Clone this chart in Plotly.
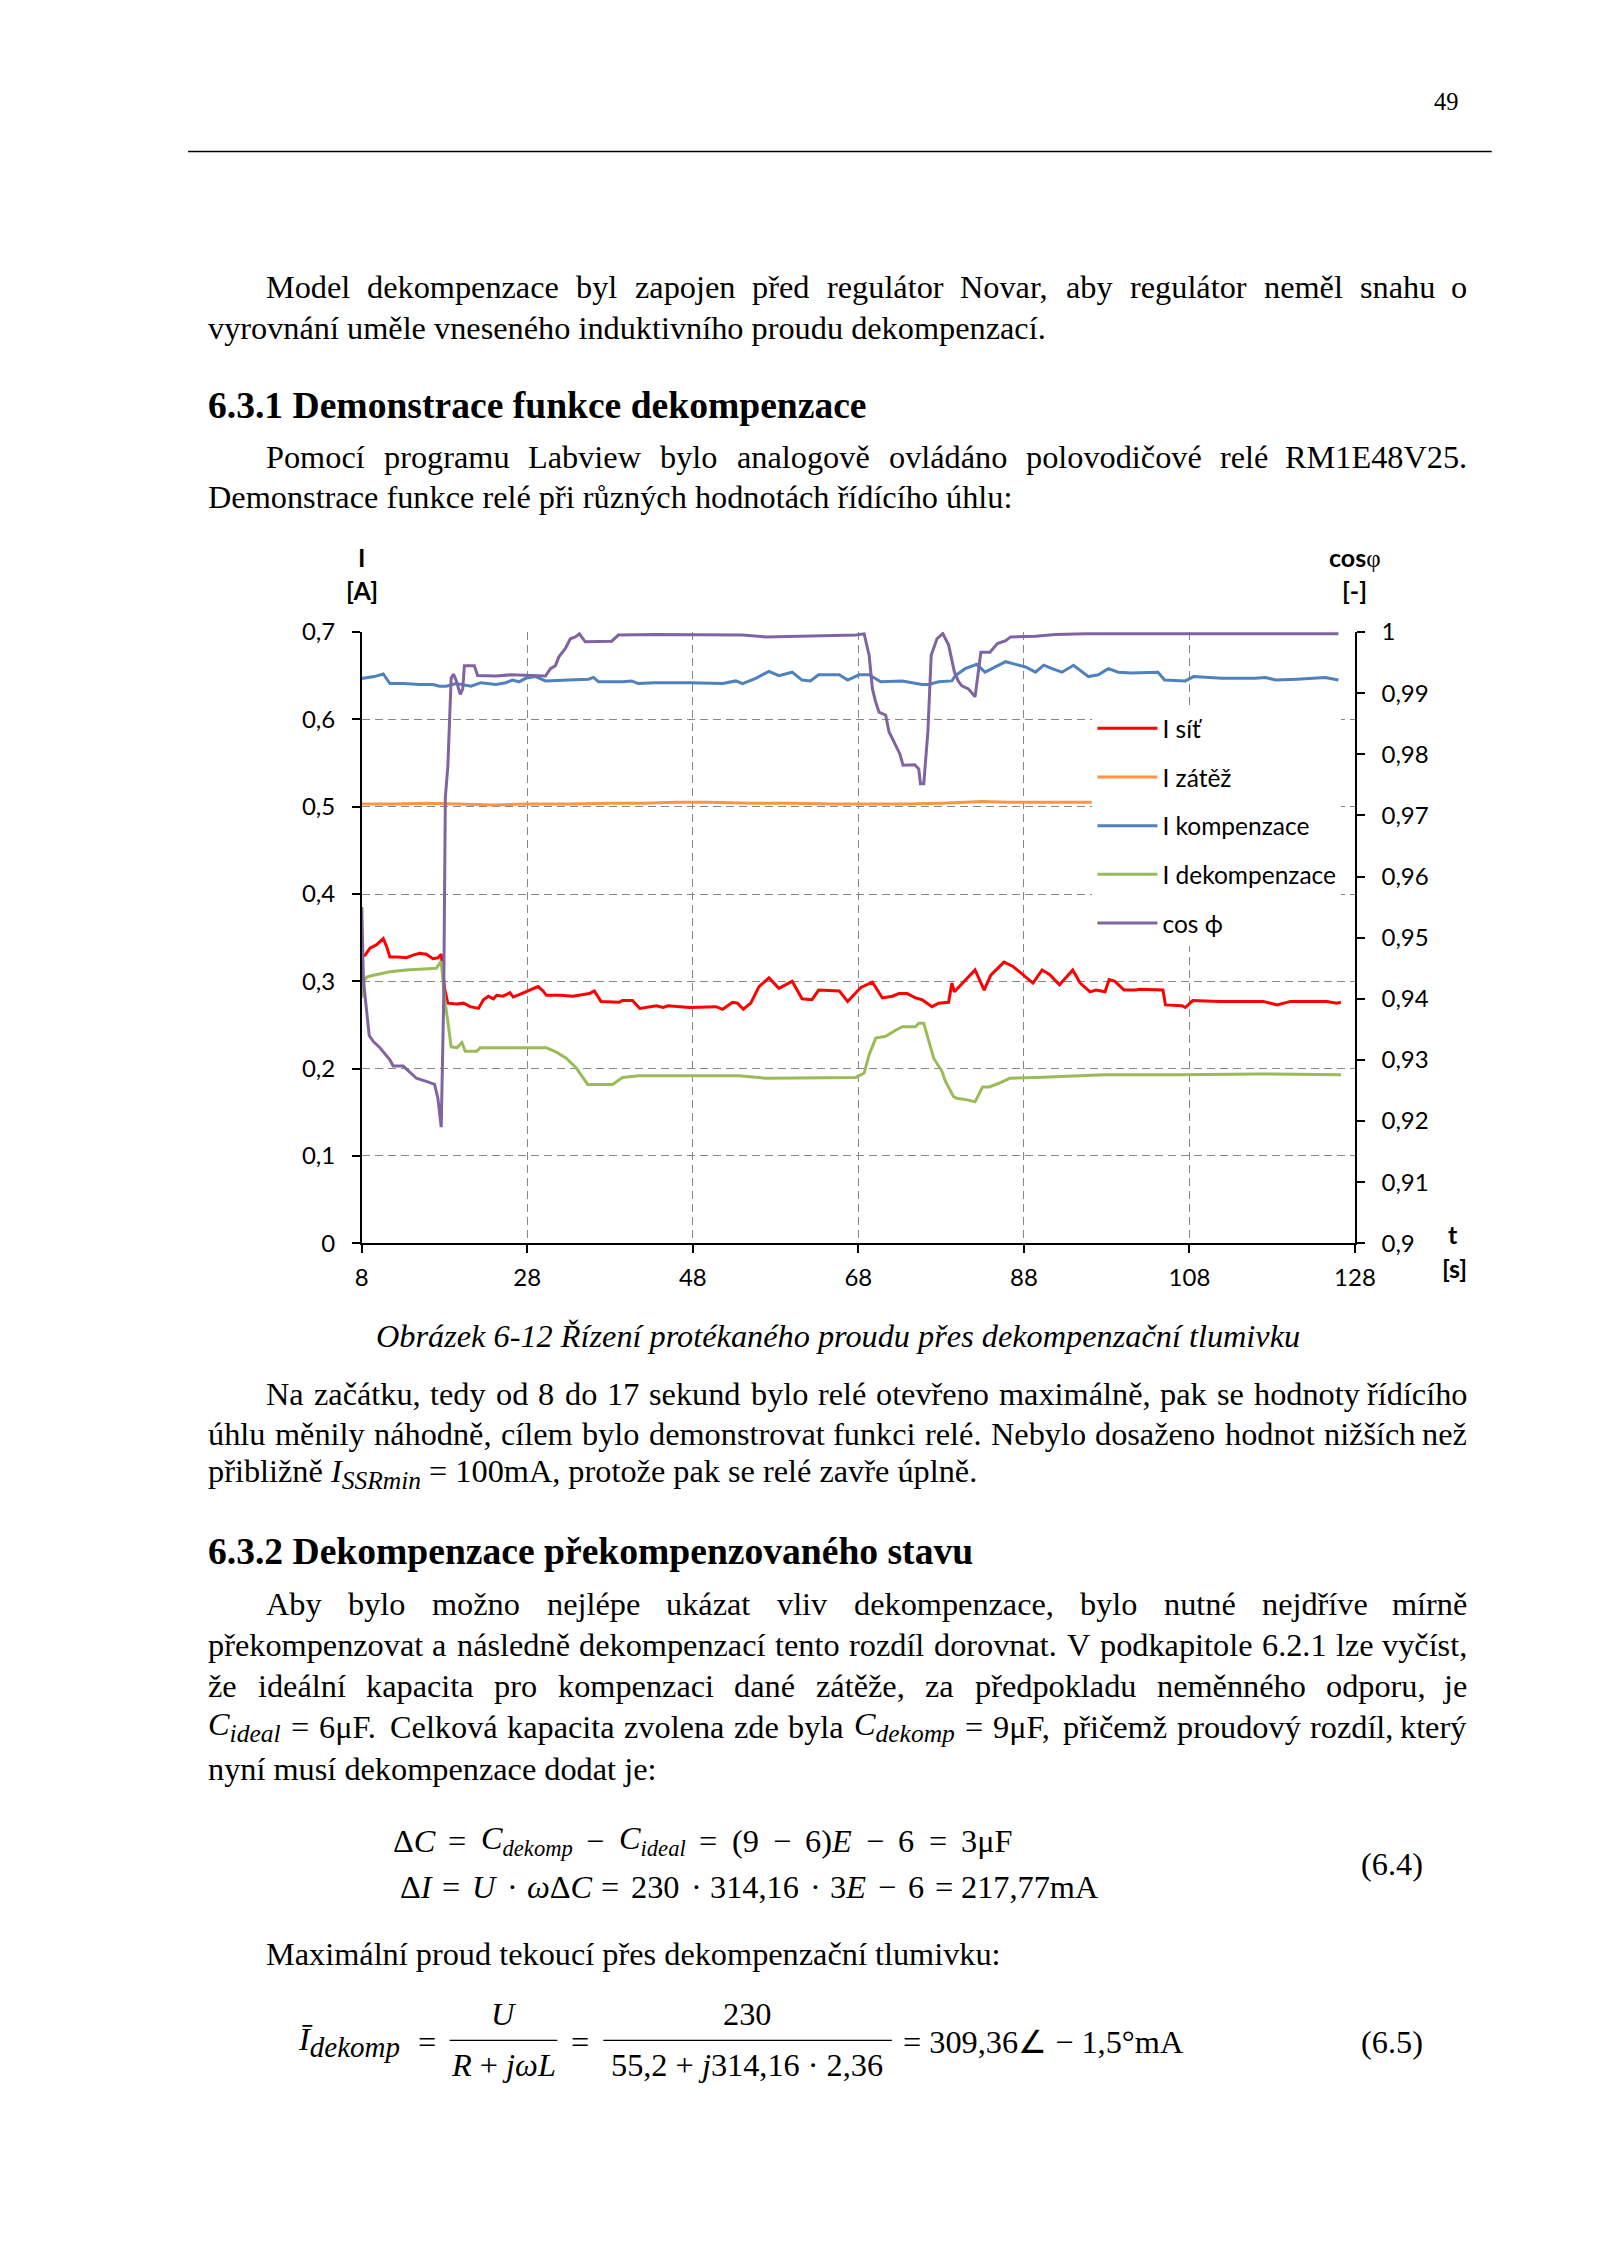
import unicodedata
import plotly.graph_objects as go

# ---------------- data ----------------
t_sit = [8.0, 8.4, 9.0, 9.8, 10.6, 11.0, 11.4, 12.4, 13.4, 14.2, 15.0, 15.8, 16.6, 17.2, 17.6, 18.0, 18.4,
         19.5, 20.3, 21.1, 22.1, 22.7, 23.3, 23.9, 24.3, 25.1, 25.9, 26.3, 27.1, 27.9, 28.6, 29.3, 29.9, 30.3,
         32.0, 33.5, 35.5, 36.1, 36.9, 39.1, 39.5, 40.7, 41.6, 42.8, 43.6, 44.4, 45.0, 47.6, 50.8, 51.6, 52.8,
         53.4, 54.1, 55.0, 56.0, 57.2, 58.4, 60.0, 61.2, 62.4, 63.2, 65.7, 66.7, 68.3, 69.7, 70.9, 72.1, 72.9,
         73.9, 74.9, 75.7, 76.9, 77.7, 78.9, 79.3, 79.6, 80.8, 82.1, 83.2, 84.0, 85.6, 86.7, 87.7, 89.1, 90.2,
         91.1, 92.3, 93.9, 94.8, 96.0, 96.7, 97.8, 98.3, 99.0, 100.1, 101.5, 102.0, 104.8, 105.1, 107.1, 107.5,
         108.4, 111.6, 116.9, 118.6, 120.2, 124.6, 125.8, 126.3]
i_sit = [0.329, 0.330, 0.338, 0.342, 0.349, 0.340, 0.328, 0.328, 0.327, 0.330, 0.332, 0.331, 0.326, 0.327,
         0.331, 0.292, 0.275, 0.274, 0.275, 0.271, 0.269, 0.279, 0.283, 0.280, 0.284, 0.283, 0.287, 0.282,
         0.285, 0.288, 0.291, 0.294, 0.289, 0.284, 0.284, 0.283, 0.286, 0.289, 0.277, 0.276, 0.278, 0.278,
         0.269, 0.271, 0.272, 0.270, 0.272, 0.270, 0.271, 0.268, 0.276, 0.275, 0.268, 0.275, 0.294, 0.304,
         0.292, 0.300, 0.280, 0.279, 0.290, 0.289, 0.277, 0.293, 0.299, 0.281, 0.283, 0.286, 0.286, 0.281,
         0.279, 0.271, 0.275, 0.276, 0.298, 0.288, 0.300, 0.313, 0.290, 0.307, 0.322, 0.317, 0.309, 0.298,
         0.313, 0.308, 0.296, 0.313, 0.298, 0.288, 0.290, 0.288, 0.302, 0.300, 0.290, 0.290, 0.291, 0.290,
         0.273, 0.272, 0.270, 0.278, 0.277, 0.277, 0.273, 0.277, 0.277, 0.275, 0.276]

t_zatez = [8.0, 12.0, 16.0, 20.0, 24.0, 28.0, 33.0, 38.0, 42.0, 46.0, 50.0, 55.0, 60.0, 65.0, 70.0, 74.0,
           78.0, 81.0, 83.0, 86.0, 90.0, 93.0, 96.2]
i_zatez = [0.503, 0.503, 0.504, 0.503, 0.502, 0.503, 0.503, 0.504, 0.504, 0.505, 0.505, 0.504, 0.504,
           0.503, 0.503, 0.503, 0.504, 0.505, 0.506, 0.505, 0.505, 0.505, 0.505]

t_komp = [8.0, 8.2, 9.5, 10.6, 11.4, 13.0, 15.0, 16.6, 17.4, 18.2, 19.4, 21.2, 22.4, 23.6, 24.2, 25.4,
          26.2, 27.0, 27.8, 29.0, 30.2, 33.0, 35.4, 36.0, 36.6, 39.5, 40.6, 41.4, 43.4, 47.6, 51.6, 53.2,
          54.0, 55.6, 57.2, 58.4, 60.0, 61.2, 62.2, 63.2, 65.7, 66.7, 68.1, 69.3, 70.7, 73.3, 75.7, 76.5,
          77.7, 79.3, 79.7, 80.9, 82.3, 83.3, 85.8, 87.0, 88.2, 89.4, 90.4, 91.4, 92.6, 94.0, 95.8, 97.0,
          98.2, 99.4, 101.0, 104.2, 105.0, 107.5, 108.5, 111.9, 115.9, 117.2, 118.4, 121.0, 124.4, 126.0]
i_komp = [0.647, 0.647, 0.649, 0.652, 0.641, 0.641, 0.640, 0.640, 0.638, 0.638, 0.641, 0.638, 0.642,
          0.641, 0.640, 0.642, 0.645, 0.643, 0.647, 0.649, 0.644, 0.645, 0.646, 0.648, 0.643, 0.643, 0.644,
          0.641, 0.642, 0.642, 0.641, 0.644, 0.641, 0.647, 0.655, 0.650, 0.654, 0.645, 0.644, 0.651, 0.651,
          0.645, 0.651, 0.651, 0.643, 0.644, 0.640, 0.640, 0.643, 0.644, 0.650, 0.658, 0.663, 0.654, 0.666,
          0.663, 0.660, 0.654, 0.662, 0.658, 0.654, 0.662, 0.649, 0.651, 0.658, 0.654, 0.653, 0.654, 0.645,
          0.644, 0.649, 0.647, 0.647, 0.648, 0.645, 0.646, 0.648, 0.645]

t_dekomp = [8.0, 8.3, 8.6, 9.4, 11.4, 13.4, 15.4, 17.0, 17.6, 18.0, 18.4, 18.8, 19.5, 20.1, 20.5, 21.9,
            22.3, 30.3, 31.5, 32.7, 33.9, 35.3, 38.3, 39.5, 41.5, 43.6, 53.6, 56.8, 67.7, 68.7, 69.3, 70.1,
            71.3, 72.5, 73.3, 74.9, 75.3, 75.9, 76.3, 77.1, 78.1, 78.5, 79.5, 79.9, 81.3, 82.1, 83.0, 83.8,
            84.9, 86.3, 89.5, 93.1, 97.7, 106.9, 116.2, 126.3]
i_dekomp = [0.281, 0.300, 0.305, 0.307, 0.311, 0.313, 0.314, 0.315, 0.323, 0.281, 0.254, 0.225, 0.224,
            0.230, 0.220, 0.220, 0.224, 0.224, 0.219, 0.212, 0.201, 0.182, 0.182, 0.190, 0.192, 0.192,
            0.192, 0.189, 0.190, 0.195, 0.216, 0.235, 0.237, 0.244, 0.248, 0.248, 0.252, 0.252, 0.239,
            0.212, 0.197, 0.186, 0.168, 0.166, 0.164, 0.162, 0.179, 0.179, 0.183, 0.189, 0.190, 0.191,
            0.193, 0.193, 0.194, 0.193]

t_cos = [8.0, 8.2, 8.9, 9.4, 10.2, 11.4, 11.8, 13.0, 13.8, 14.6, 15.8, 16.8, 17.2, 17.6, 17.9, 18.1, 18.4,
         18.8, 19.1, 19.4, 19.9, 20.2, 20.4, 21.6, 22.0, 24.2, 26.0, 28.2, 30.2, 30.8, 31.4, 31.8, 32.6,
         33.2, 33.8, 34.3, 35.0, 38.2, 39.0, 43.4, 54.0, 56.8, 60.0, 67.7, 68.7, 69.3, 69.7, 70.1, 70.5,
         71.3, 71.7, 72.5, 73.0, 73.4, 74.8, 75.3, 75.5, 75.9, 76.4, 76.8, 77.5, 78.2, 78.9, 79.6, 80.1,
         80.5, 81.3, 82.1, 82.5, 82.8, 83.9, 84.8, 85.8, 86.4, 89.4, 91.8, 95.5, 105.0, 116.0, 126.0]
cos_phi = [0.955, 0.943, 0.934, 0.933, 0.932, 0.930, 0.929, 0.929, 0.928, 0.927, 0.9265, 0.926, 0.9237,
           0.919, 0.940, 0.973, 0.978, 0.9925, 0.9931, 0.9921, 0.9898, 0.9907, 0.9945, 0.9945, 0.9929,
           0.9928, 0.9930, 0.9929, 0.9928, 0.9940, 0.9945, 0.9959, 0.9973, 0.9989, 0.9992, 0.9997, 0.9984,
           0.9985, 0.9995, 0.9996, 0.9995, 0.9992, 0.9993, 0.9995, 0.9997, 0.9962, 0.9907, 0.9885, 0.9869,
           0.9864, 0.9837, 0.9816, 0.9801, 0.9782, 0.9783, 0.9776, 0.9752, 0.9752, 0.9837, 0.9962, 0.9989,
           0.99975, 0.9979, 0.9935, 0.9919, 0.9912, 0.9907, 0.9894, 0.9935, 0.9967, 0.9967, 0.9981, 0.9986,
           0.9992, 0.9993, 0.9996, 0.9997, 0.9997, 0.9997, 0.9997]

series_names = ["I síť", "I zátěž", "I kompenzace", "I dekompenzace", "cos ϕ"]
series_colors = ["#FF0000", "#F79646", "#4F81BD", "#9BBB59", "#8064A2"]

x_tickvals = [8, 28, 48, 68, 88, 108, 128]
x_ticktext = ["8", "28", "48", "68", "88", "108", "128"]
y_tickvals = [0, 0.1, 0.2, 0.3, 0.4, 0.5, 0.6, 0.7]
y_ticktext = ["0", "0,1", "0,2", "0,3", "0,4", "0,5", "0,6", "0,7"]
y2_tickvals = [0.90, 0.91, 0.92, 0.93, 0.94, 0.95, 0.96, 0.97, 0.98, 0.99, 1.00]
y2_ticktext = ["0,9", "0,91", "0,92", "0,93", "0,94", "0,95", "0,96", "0,97", "0,98", "0,99", "1"]

# ---------------- page geometry ----------------
# positions below are given in target picture pixels; the photographed page maps
# page px -> picture px as  X = SX*x + CX,  Y = SY*y + CY  (measured), body margin 8px.
SX, SY, CX, CY = 0.9841, 0.9882, 5.74, 13.36
BODY = 8
FW, FH = 1584, 2240


def fx(X):
    return ((X - CX) / SX - BODY) / FW


def fy(Y):
    return 1 - ((Y - CY) / SY - BODY) / FH


PL, PR, PT, PB = 361, 1356, 630, 1242   # plot area in picture pixels

fig = go.Figure()
xs = [t_sit, t_zatez, t_komp, t_dekomp]
ys = [i_sit, i_zatez, i_komp, i_dekomp]
for k in range(4):
    fig.add_trace(go.Scatter(x=xs[k], y=ys[k], mode="lines", name=series_names[k],
                             legendgroup=str(k), line=dict(color=series_colors[k], width=3)))
fig.add_trace(go.Scatter(x=t_cos, y=cos_phi, mode="lines", name=series_names[4], yaxis="y2",
                         legendgroup="4", line=dict(color=series_colors[4], width=3)))

TICKFONT = dict(family="Lato", size=24, color="black")
common = dict(showline=True, linecolor="black", linewidth=1.5, ticks="outside", ticklen=8,
              tickwidth=1.5, tickcolor="black", tickfont=TICKFONT, zeroline=False, fixedrange=True)
grid = dict(showgrid=True, gridcolor="#878787", gridwidth=1.3, griddash="8px,5px")

fig.update_layout(
    width=FW, height=FH, autosize=False, margin=dict(l=0, r=0, t=0, b=0),
    paper_bgcolor="white", plot_bgcolor="white",
    font=dict(family="Liberation Serif", color="black"),
    xaxis=dict(domain=[fx(PL), fx(PR)], range=[8, 128], tickvals=x_tickvals, ticktext=x_ticktext,
               ticklabelstandoff=4, **grid, **common),
    yaxis=dict(domain=[fy(PB), fy(PT)], range=[0, 0.7], tickvals=y_tickvals, ticktext=y_ticktext,
               ticklabelstandoff=12, **grid, **common),
    yaxis2=dict(overlaying="y", side="right", anchor="x", range=[0.9, 1.0], tickvals=y2_tickvals,
                ticktext=y2_ticktext, showgrid=False, ticklabelstandoff=12, **common),
    showlegend=True,
    legend=dict(x=fx(1093), y=fy(704), xanchor="left", yanchor="top", bgcolor="white",
                borderwidth=0, font=dict(family="Lato", size=24.5, color="black"),
                traceorder="grouped", tracegroupgap=13.8, itemwidth=60),
)

# ---------------- text helpers ----------------
CW = {' ': 250, ',': 250, '.': 250, ':': 278, '-': 333, '(': 333, ')': 333, '=': 564, '−': 564,
      '·': 250, 'μ': 576, 'Δ': 612, 'ω': 670, '°': 400,
      'A': 722, 'B': 667, 'C': 667, 'D': 722, 'E': 611, 'F': 556, 'G': 722, 'H': 722, 'I': 333, 'J': 389,
      'K': 722, 'L': 611, 'M': 889, 'N': 722, 'O': 722, 'P': 556, 'Q': 722, 'R': 667, 'S': 556, 'T': 611,
      'U': 722, 'V': 722, 'W': 944, 'X': 722, 'Y': 722, 'Z': 611,
      'a': 444, 'b': 500, 'c': 444, 'd': 500, 'e': 444, 'f': 333, 'g': 500, 'h': 500, 'i': 278, 'j': 278,
      'k': 500, 'l': 278, 'm': 778, 'n': 500, 'o': 500, 'p': 500, 'q': 500, 'r': 333, 's': 389, 't': 278,
      'u': 500, 'v': 500, 'w': 722, 'x': 500, 'y': 500, 'z': 444}


def tw(s):
    tot = 0
    for ch in s:
        base = unicodedata.normalize("NFD", ch)[0]
        tot += CW.get(base, 500)
    return tot / 1000.0


ANN = []
BODYFS = 32.3     # font size for body text
WFS = 32.1        # on-picture em size used for word width estimates


def text(s, x, y, size=BODYFS, anchor="left", family="Liberation Serif", color="black"):
    ANN.append(dict(text=s, x=fx(x), y=fy(y - 1), xref="paper", yref="paper", xanchor=anchor,
                    yanchor="middle", showarrow=False, borderpad=0,
                    font=dict(family=family, size=size, color=color)))


def sub(s, px):
    return "<sub><span style='font-size:%gpx'><i>%s</i></span></sub>" % (px, s)


def justified(tokens, x0, x1, y):
    items = []
    for tk in tokens:
        if isinstance(tk, tuple):
            items.append((tk[0], tk[1] * WFS))
        else:
            items.append((tk, tw(tk) * WFS))
    total = sum(w for _, w in items)
    gap = (x1 - x0 - total) / (len(items) - 1)
    x = x0
    for n, (h, w) in enumerate(items):
        if n == len(items) - 1:
            text(h, x1, y, anchor="right")
        else:
            text(h, x, y)
        x += w + gap


def hline(x0, x1, y, width):
    return dict(type="line", xref="paper", yref="paper", x0=fx(x0), x1=fx(x1), y0=fy(y), y1=fy(y),
                line=dict(color="black", width=width))


XL, XI, XR = 206, 264, 1469
HFS = 37.6

# header
text("49", 1460, 100, size=24.4, anchor="right")
SHAPES = [hline(187, 1493, 149, 1.5)]

justified("Model dekompenzace byl zapojen před regulátor Novar, aby regulátor neměl snahu o".split(), XI, XR, 286)
text("vyrovnání uměle vneseného induktivního proudu dekompenzací.", XL, 327)
text("<b>6.3.1 Demonstrace funkce dekompenzace</b>", XL, 404, size=HFS)
justified("Pomocí programu Labview bylo analogově ovládáno polovodičové relé RM1E48V25.".split(), XI, XR, 456)
text("Demonstrace funkce relé při různých hodnotách řídícího úhlu:", XL, 496)

# chart axis titles
CF = "Lato"
TFS = 25
text("<b>I</b>", 361, 556, size=TFS, anchor="center", family=CF)
text("<b>[A]</b>", 361, 589, size=TFS, anchor="center", family=CF)
text("<b>cos</b><span style='font-family:Liberation Serif'>φ</span>", 1356, 556, size=TFS, anchor="center", family=CF)
text("<b>[-]</b>", 1356, 589, size=TFS, anchor="center", family=CF)
text("<b>t</b>", 1454, 1234, size=TFS, anchor="center", family=CF)
text("<b>[s]</b>", 1456, 1268, size=TFS, anchor="center", family=CF)

text("<i>Obrázek 6-12 Řízení protékaného proudu přes dekompenzační tlumivku</i>", 838, 1336, anchor="center")

justified("Na začátku, tedy od 8 do 17 sekund bylo relé otevřeno maximálně, pak se hodnoty řídícího".split(), XI, XR, 1394)
justified("úhlu měnily náhodně, cílem bylo demonstrovat funkci relé. Nebylo dosaženo hodnot nižších než".split(), XL, XR, 1434)
text("přibližně <i>I</i>" + sub("SSRmin", 25.5) + " = 100mA, protože pak se relé zavře úplně.", XL, 1474)

text("<b>6.3.2 Dekompenzace překompenzovaného stavu</b>", XL, 1552, size=HFS)
justified("Aby bylo možno nejlépe ukázat vliv dekompenzace, bylo nutné nejdříve mírně".split(), XI, XR, 1604)
justified("překompenzovat a následně dekompenzací tento rozdíl dorovnat. V podkapitole 6.2.1 lze vyčíst,".split(), XL, XR, 1645)
justified("že ideální kapacita pro kompenzaci dané zátěže, za předpokladu neměnného odporu, je".split(), XL, XR, 1686)
justified([("<i>C</i>" + sub("ideal", 25.5), 2.26), "=", "6μF.", "Celková", "kapacita", "zvolena", "zde", "byla",
           ("<i>C</i>" + sub("dekomp", 25.5), 3.14), "=", "9μF,", "přičemž", "proudový", "rozdíl,", "který"],
          XL, XR, 1727)
text("nyní musí dekompenzace dodat je:", XL, 1769)

# equations 6.4
C_ideal = ("<i>C</i><sub><i>ideal</i></sub>", 2.07)
C_dekomp = ("<i>C</i><sub><i>dekomp</i></sub>", 2.84)
justified([("Δ<i>C</i>", 1.28), "=", C_dekomp, "−", C_ideal, "=", "(9", "−", ("6)<i>E</i>", 1.44), "−", "6", "=",
           "3μF"], 391, 1013, 1841)
justified([("Δ<i>I</i>", 0.95), "=", ("<i>U</i>", 0.72), "·", ("<i>ω</i>Δ<i>C</i>", 1.95), "=", "230", "·",
           "314,16", "·", ("3<i>E</i>", 1.11), "−", "6", "=", "217,77mA"], 398, 1101, 1887)
text("(6.4)", 1425, 1864, anchor="right")

text("Maximální proud tekoucí přes dekompenzační tlumivku:", XI, 1955)

# equation 6.5
text("<i>Ī</i>" + sub("dekomp", 29), 296, 2043)
text("=", 426, 2043, anchor="center")
text("<i>U</i>", 503, 2015, anchor="center")
text("<i>R</i> + <i>jωL</i>", 503, 2066, anchor="center")
text("=", 580, 2043, anchor="center")
text("230", 747, 2015, anchor="center")
text("55,2 + <i>j</i>314,16 · 2,36", 747, 2066, anchor="center")
text("= 309,36∠ − 1,5°mA", 902, 2043)
text("(6.5)", 1425, 2043, anchor="right")
SHAPES.append(hline(449, 557, 2040, 1.3))
SHAPES.append(hline(603, 892, 2040, 1.3))

fig.update_layout(annotations=ANN, shapes=SHAPES)

fig.write_html("out.html", config={"displayModeBar": False})
